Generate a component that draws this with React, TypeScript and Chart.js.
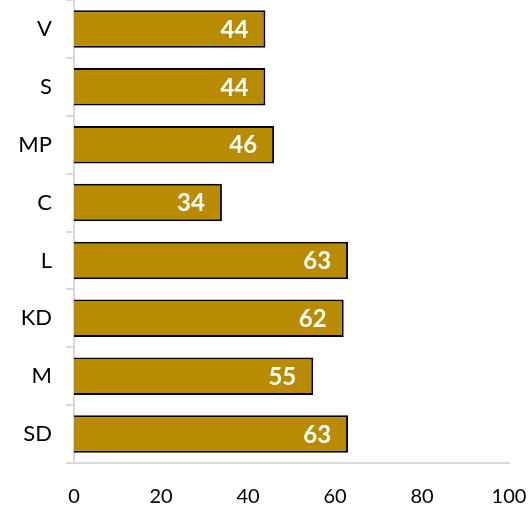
import React, { useEffect, useRef } from "react";
import { Chart, registerables } from "chart.js";

Chart.register(...registerables);

const categories = ["V", "S", "MP", "C", "L", "KD", "M", "SD"];
const values = [44, 44, 46, 34, 63, 62, 55, 63];
const xTicks = [0, 20, 40, 60, 80, 100];

const barColor = "#B88B00";
const axisColor = "#D9D9D9";
const fontFamily = "Lato, 'Open Sans', sans-serif";

const valueLabels = {
  id: "valueLabels",
  afterDatasetsDraw(chart: any) {
    const ctx = chart.ctx;
    const meta = chart.getDatasetMeta(0);
    ctx.save();
    ctx.fillStyle = "#FFFFFF";
    ctx.font = `bold 24px ${fontFamily}`;
    ctx.textAlign = "right";
    ctx.textBaseline = "middle";
    meta.data.forEach((el: any, i: number) => {
      ctx.fillText(String(values[i]), el.x - 17, el.y + 1);
    });
    ctx.restore();
  },
};

export default function App() {
  const ref = useRef<HTMLCanvasElement | null>(null);
  useEffect(() => {
    if (!ref.current) return;
    const chart = new Chart(ref.current, {
      type: "bar",
      data: {
        labels: categories,
        datasets: [
          {
            data: values,
            backgroundColor: barColor,
            borderColor: "#000000",
            borderWidth: 2,
            barPercentage: 0.65,
            categoryPercentage: 1,
          },
        ],
      },
      options: {
        indexAxis: "y",
        animation: false,
        responsive: true,
        maintainAspectRatio: false,
        layout: { padding: { top: 0, right: 21, left: 0, bottom: 0 } },
        plugins: { legend: { display: false }, tooltip: { enabled: false } },
        scales: {
          x: {
            min: 0,
            max: 100,
            afterBuildTicks: (scale: any) => {
              scale.ticks = xTicks.map((v) => ({ value: v }));
            },
            afterFit: (scale: any) => {
              scale.height = 43;
              scale.paddingLeft = 0;
              scale.paddingRight = 0;
            },
            grid: { display: false, drawTicks: false },
            border: { display: true, color: axisColor, width: 2 },
            ticks: {
              color: "#000000",
              padding: 22,
              font: { family: fontFamily, size: 20 },
            },
          },
          y: {
            afterFit: (scale: any) => {
              scale.width = 74;
              scale.paddingTop = 0;
              scale.paddingBottom = 0;
            },
            grid: {
              drawOnChartArea: false,
              drawTicks: true,
              tickLength: 8,
              color: axisColor,
              lineWidth: 2,
              offset: true,
            },
            border: { display: true, color: axisColor, width: 2 },
            ticks: {
              color: "#000000",
              padding: 14,
              font: { family: fontFamily, size: 22 },
            },
          },
        },
      },
      plugins: [valueLabels],
    });
    return () => chart.destroy();
  }, []);
  return (
    <div style={{ position: "absolute", left: 0, top: 0, width: 530, height: 506 }}>
      <canvas ref={ref} style={{ display: "block" }} />
    </div>
  );
}
